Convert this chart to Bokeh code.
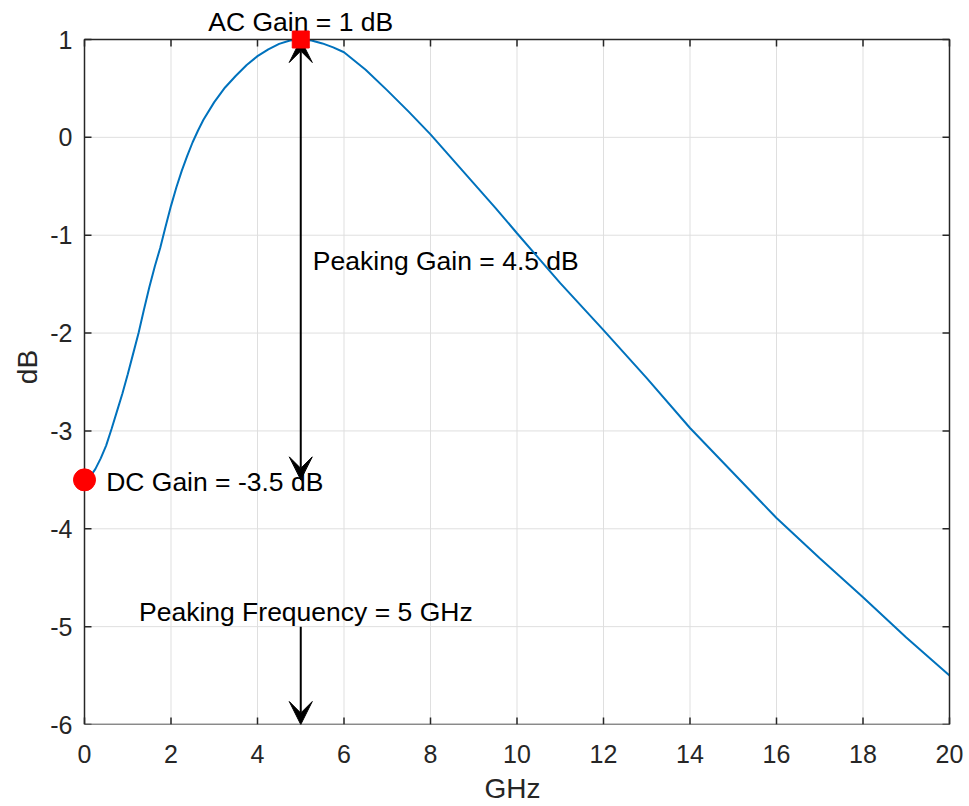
from bokeh.plotting import figure
from bokeh.models import Range1d, FixedTicker, Label, Arrow, VeeHead
from bokeh.embed import file_html
from bokeh.resources import INLINE

# ---- data ----
freq_ghz = [0.0, 0.125, 0.25, 0.375, 0.5, 0.625, 0.75, 0.875, 1.0, 1.125, 1.25, 1.375,
            1.5, 1.625, 1.75, 1.875, 2.0, 2.125, 2.25, 2.375, 2.5, 2.625, 2.75,
            3.0, 3.25, 3.5, 3.75, 4.0, 4.25, 4.5, 4.75, 5.0, 5.25, 5.5, 5.75, 6.0,
            6.5, 7.0, 7.5, 8.0, 8.5, 9.0, 9.5, 10.0, 11.0, 12.0, 13.0, 14.0, 15.0,
            16.0, 17.0, 18.0, 19.0, 20.0]
gain_db = [-3.5, -3.47, -3.39, -3.28, -3.15, -2.98, -2.80, -2.62, -2.42, -2.21, -2.0, -1.76,
           -1.53, -1.32, -1.13, -0.91, -0.70, -0.51, -0.34, -0.19, -0.05, 0.07, 0.18,
           0.36, 0.51, 0.63, 0.74, 0.83, 0.90, 0.955, 0.99, 1.0, 0.99, 0.96, 0.92, 0.87,
           0.69, 0.48, 0.26, 0.03, -0.22, -0.47, -0.72, -0.98, -1.49, -1.97, -2.46, -2.97, -3.43,
           -3.89, -4.30, -4.70, -5.11, -5.50]

dc_freq = [0.0]
dc_gain = [-3.5]
peak_freq = [5.0]
peak_gain = [1.0]
freq_arrow_start_gain = [-5.0]   # start of the "Peaking Frequency" arrow

x_ticks = [0, 2, 4, 6, 8, 10, 12, 14, 16, 18, 20]
y_ticks = [-6, -5, -4, -3, -2, -1, 0, 1]
X0, X1 = 0, 20
Y0, Y1 = -6, 1

# ---- layout (pixels) ----
W, H = 966, 806
BOX_L, BOX_R, BOX_T, BOX_B = 84, 949, 39, 724
PAD_L, PAD_R, PAD_T = 12, 3, 30
TICK_PX = 7
sx = (X1 - X0) / (BOX_R - BOX_L)
sy = (Y1 - Y0) / (BOX_B - BOX_T)

FONT = "Liberation Sans"
AX = "#262626"
GRID = "#dfdfdf"
BLUE = "#0072BD"

p = figure(width=W, height=H,
           x_range=Range1d(X0 - PAD_L * sx, X1 + PAD_R * sx),
           y_range=Range1d(Y0, Y1 + PAD_T * sy),
           output_backend="svg", toolbar_location=None,
           min_border_left=BOX_L - PAD_L, min_border_right=W - (BOX_R + PAD_R),
           min_border_top=BOX_T - PAD_T, min_border_bottom=H - BOX_B)
p.background_fill_color = "white"
p.border_fill_color = "white"
p.outline_line_color = None
p.xgrid.visible = False
p.ygrid.visible = False

for ax, ticks in ((p.xaxis[0], x_ticks), (p.yaxis[0], y_ticks)):
    ax.ticker = FixedTicker(ticks=ticks)
    ax.major_label_overrides = {t: str(t) for t in ticks}
    ax.minor_tick_line_color = None
    ax.major_tick_line_color = None
    ax.major_tick_in = 0
    ax.major_tick_out = 0
    ax.axis_line_color = None
    ax.major_label_text_font = FONT
    ax.major_label_text_font_size = "25px"
    ax.major_label_text_color = AX
    ax.axis_label_text_font = FONT
    ax.axis_label_text_font_size = "28px"
    ax.axis_label_text_font_style = "normal"
    ax.axis_label_text_color = AX

p.xaxis.axis_label = "GHz"
p.yaxis.axis_label = "dB"
p.xaxis.major_label_standoff = 20
p.xaxis.axis_label_standoff = 7
p.yaxis.major_label_standoff = 12 - PAD_L
p.yaxis.axis_label_standoff = 4

# grid lines inside the axes box
n_x = len(x_ticks)
n_y = len(y_ticks)
g1 = p.segment(x0=x_ticks, y0=[Y0] * n_x, x1=x_ticks, y1=[Y1] * n_x, line_color=GRID, line_width=1)
g2 = p.segment(x0=[X0] * n_y, y0=y_ticks, x1=[X1] * n_y, y1=y_ticks, line_color=GRID, line_width=1)
g1.level = "underlay"
g2.level = "underlay"

# text labels
lab_kw = dict(text_font=FONT, text_font_size="26.5px", text_color="black",
              text_baseline="middle", level="underlay")
p.add_layout(Label(x=5.28, y=-1.263, text="Peaking Gain = 4.5 dB", **lab_kw))
p.add_layout(Label(x=0.50, y=-3.52, text="DC Gain = -3.5 dB", **lab_kw))
p.add_layout(Label(x=1.26, y=-4.855, text="Peaking Frequency = 5 GHz", **lab_kw))
p.add_layout(Label(x=peak_freq[0], y=Y1, y_offset=18, text="AC Gain = 1 dB", text_align="center", **lab_kw))

# arrows
def head():
    return VeeHead(size=23, fill_color="black", line_color="black", line_width=1)

p.add_layout(Arrow(x_start=peak_freq[0], y_start=dc_gain[0], x_end=peak_freq[0], y_end=peak_gain[0],
                   start=head(), end=head(), line_color="black", line_width=2, level="underlay"))
p.add_layout(Arrow(x_start=peak_freq[0], y_start=freq_arrow_start_gain[0], x_end=peak_freq[0], y_end=Y0,
                   end=head(), line_color="black", line_width=2, level="underlay"))

# curve
p.line(freq_ghz, gain_db, line_color=BLUE, line_width=2)

# axes box and inward ticks on all four sides
p.line([X0, X1, X1, X0, X0], [Y0, Y0, Y1, Y1, Y0], line_color=AX, line_width=1.5)
tick_kw = dict(line_color=AX, line_width=1.5)
p.segment(x0=x_ticks, y0=[Y1] * n_x, x1=x_ticks, y1=[Y1 - TICK_PX * sy] * n_x, **tick_kw)
p.segment(x0=x_ticks, y0=[Y0] * n_x, x1=x_ticks, y1=[Y0 + TICK_PX * sy] * n_x, **tick_kw)
p.segment(x0=[X1] * n_y, y0=y_ticks, x1=[X1 - TICK_PX * sx] * n_y, y1=y_ticks, **tick_kw)
p.segment(x0=[X0] * n_y, y0=y_ticks, x1=[X0 + TICK_PX * sx] * n_y, y1=y_ticks, **tick_kw)

# markers
m1 = p.scatter(dc_freq, dc_gain, marker="circle", size=22, fill_color="red", line_color="red")
m2 = p.scatter(peak_freq, peak_gain, marker="square", size=17, fill_color="red", line_color="red")
m1.level = "overlay"
m2.level = "overlay"

open("out.html", "w").write(file_html(p, INLINE))
